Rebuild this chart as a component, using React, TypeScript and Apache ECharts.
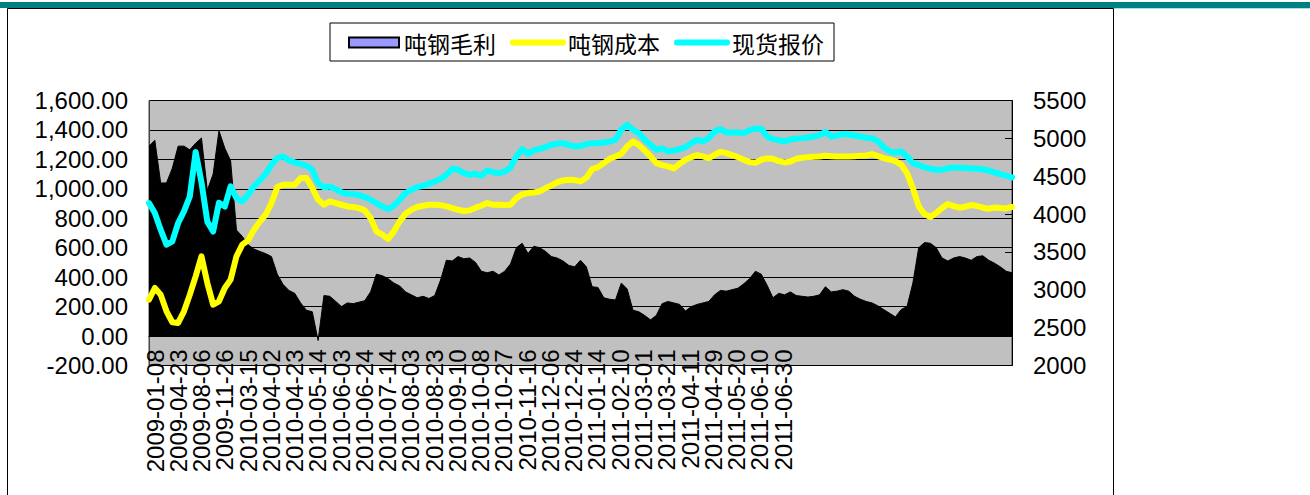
import React, { useEffect, useRef } from "react";
import * as echarts from "echarts";

// Tick labels shown under the plot (the source sheet only labels the first 28 slots)
const tickLabels = [
  "2009-01-08", "2009-04-23", "2009-08-06", "2009-11-26", "2010-03-15", "2010-04-02",
  "2010-04-23", "2010-05-14", "2010-06-03", "2010-06-24", "2010-07-14", "2010-08-03",
  "2010-08-23", "2010-09-10", "2010-10-08", "2010-10-27", "2010-11-16", "2010-12-06",
  "2010-12-24", "2011-01-14", "2011-02-10", "2011-03-01", "2011-03-21", "2011-04-11",
  "2011-04-29", "2011-05-20", "2011-06-10", "2011-06-30",
  "", "", "", "", "", "", "", "", "",
];

// 吨钢毛利 (left axis)
const profit = [
  1290, 1330, 1040, 1040, 1140, 1290, 1290, 1265, 1310, 1345,
  990, 1100, 1395, 1276, 1190, 720, 677, 620, 591, 575,
  560, 540, 420, 350, 310, 290, 225, 175, 165, -30,
  275, 270, 236, 200, 225, 220, 230, 240, 300, 420,
  410, 390, 360, 340, 300, 280, 260, 270, 255, 275,
  380, 515, 510, 540, 525, 530, 500, 440, 430, 440,
  415, 440, 490, 600, 630, 560, 610, 600, 575, 540,
  530, 510, 480, 470, 515, 470, 335, 330, 260, 250,
  245, 360, 320, 175, 165, 140, 110, 140, 220, 235,
  225, 215, 170, 200, 215, 225, 235, 280, 310, 305,
  315, 325, 355, 390, 440, 420, 345, 260, 290, 280,
  300, 275, 270, 265, 270, 280, 335, 300, 305, 315,
  305, 270, 250, 235, 225, 205, 180, 155, 130, 180,
  200, 360, 600, 635, 630, 600, 530, 510, 530, 540,
  530, 515, 540, 545, 515, 495, 470, 440, 430,
];

// 吨钢成本 (right axis)
const cost = [
  2870, 3024, 2936, 2716, 2571, 2562, 2716, 2936, 3178, 3442,
  3090, 2804, 2848, 3024, 3134, 3442, 3596, 3653, 3794, 3899,
  3991, 4145, 4356, 4387, 4387, 4387, 4475, 4475, 4343, 4189,
  4123, 4167, 4145, 4123, 4101, 4093, 4079, 4049, 3947, 3772,
  3728, 3671, 3772, 3904, 4005, 4057, 4093, 4110, 4123, 4123,
  4119, 4101, 4079, 4057, 4040, 4049, 4084, 4110, 4145, 4123,
  4123, 4119, 4123, 4211, 4260, 4277, 4286, 4299, 4343, 4378,
  4418, 4444, 4453, 4449, 4431, 4480, 4594, 4620, 4673, 4730,
  4761, 4796, 4893, 4959, 4915, 4840, 4761, 4673, 4647, 4629,
  4603, 4664, 4717, 4752, 4779, 4761, 4739, 4783, 4822, 4805,
  4779, 4752, 4717, 4686, 4677, 4717, 4735, 4730, 4699, 4682,
  4695, 4730, 4743, 4752, 4757, 4761, 4770, 4765, 4761, 4761,
  4761, 4765, 4770, 4774, 4792, 4765, 4739, 4721, 4699, 4651,
  4541, 4343, 4101, 4000, 3961, 4013, 4079, 4132, 4106, 4084,
  4097, 4119, 4106, 4084, 4071, 4088, 4079, 4075, 4093,
];

// 现货报价 (right axis)
const spot = [
  4145, 4014, 3794, 3596, 3640, 3882, 4036, 4233, 4820, 4420,
  3900, 3770, 4150, 4100, 4365, 4211, 4167, 4255, 4365, 4444,
  4532, 4651, 4739, 4761, 4708, 4682, 4664, 4638, 4585, 4409,
  4352, 4365, 4330, 4286, 4269, 4264, 4251, 4225, 4189, 4145,
  4101, 4066, 4110, 4189, 4277, 4321, 4356, 4374, 4400, 4431,
  4462, 4519, 4598, 4585, 4541, 4519, 4532, 4506, 4576, 4554,
  4541, 4563, 4616, 4761, 4858, 4796, 4840, 4862, 4884, 4915,
  4928, 4937, 4915, 4893, 4902, 4924, 4937, 4937, 4946, 4959,
  4981, 5113, 5179, 5113, 5069, 4981, 4915, 4849, 4867, 4827,
  4840, 4858, 4884, 4937, 4981, 4959, 5003, 5091, 5122, 5078,
  5078, 5078, 5069, 5108, 5130, 5126, 5025, 4990, 4976, 4959,
  4985, 4998, 5003, 5012, 5025, 5042, 5086, 5025, 5038, 5056,
  5051, 5038, 5025, 5007, 5003, 4959, 4884, 4827, 4814, 4827,
  4761, 4673, 4647, 4620, 4598, 4585, 4585, 4607, 4612, 4612,
  4607, 4603, 4598, 4589, 4576, 4550, 4528, 4506, 4484,
];

const seriesNames = ["吨钢毛利", "吨钢成本", "现货报价"];

export default function App() {
  const ref = useRef<HTMLDivElement>(null);

  useEffect(() => {
    if (!ref.current) return;
    const chart = echarts.init(ref.current, undefined, { renderer: "svg" });
    const points = profit.map((_, i) => String(i));
    const numFont = "'Liberation Sans', Arial, sans-serif";

    chart.setOption({
      animation: false,
      backgroundColor: "#ffffff",
      graphic: {
        z: -10,
        elements: [
          { type: "rect", z: -10, shape: { x: 0, y: 2, width: 1310, height: 6 }, style: { fill: "#008080" } },
          { type: "rect", z: -10, shape: { x: 1113, y: 8, width: 197, height: 1 }, style: { fill: "#a8e4e4" } },
          {
            type: "rect",
            z: -9,
            shape: { x: 7.5, y: 8.5, width: 1106, height: 500 },
            style: { fill: "#ffffff", stroke: "#000000", lineWidth: 1 },
          },
        ],
      },
      legend: {
        left: 330,
        top: 23,
        data: [
          {
            name: seriesNames[0],
            icon: "rect",
            itemStyle: { color: "#9999ff", borderColor: "#000000", borderWidth: 2 },
          },
          {
            name: seriesNames[1],
            itemStyle: { opacity: 0 },
            lineStyle: { color: "#ffff00", width: 6, cap: "round" },
          },
          {
            name: seriesNames[2],
            itemStyle: { opacity: 0 },
            lineStyle: { color: "#00ffff", width: 6, cap: "round" },
          },
        ],
        itemWidth: 50,
        itemHeight: 10,
        itemGap: 14,
        padding: [8, 10, 7, 18],
        borderColor: "#000000",
        borderWidth: 1,
        backgroundColor: "#ffffff",
        selectedMode: false,
        textStyle: { fontSize: 23, color: "#000000", fontFamily: "'Noto Sans CJK SC', sans-serif" },
      },
      grid: [
        {
          left: 149,
          top: 100.5,
          width: 863,
          height: 265,
          show: true,
          backgroundColor: "#c0c0c0",
          borderColor: "#444444",
          borderWidth: 1,
        },
        { left: 155, top: 100.5, width: 837.4, height: 236 },
      ],
      xAxis: [
        {
          type: "category",
          gridIndex: 0,
          data: points,
          boundaryGap: false,
          axisLine: { show: true, onZero: true, lineStyle: { color: "#000000", width: 1 } },
          axisTick: { show: false },
          axisLabel: { show: false },
          splitLine: { show: false },
        },
        {
          type: "category",
          gridIndex: 1,
          data: tickLabels,
          boundaryGap: false,
          axisLine: { show: false },
          axisTick: { show: false },
          splitLine: { show: false },
          axisLabel: {
            interval: 0,
            rotate: 90,
            margin: 13,
            fontSize: 24,
            color: "#000000",
            fontFamily: numFont,
          },
        },
      ],
      yAxis: [
        {
          type: "value",
          gridIndex: 0,
          position: "left",
          min: -200,
          max: 1600,
          interval: 200,
          axisLine: { show: true, lineStyle: { color: "#444444" } },
          axisTick: { show: false },
          splitLine: { show: true, lineStyle: { color: "#000000", width: 1.2 } },
          axisLabel: {
            margin: 21,
            fontSize: 24,
            color: "#000000",
            fontFamily: numFont,
            formatter: (v: number) =>
              v.toLocaleString("en-US", { minimumFractionDigits: 2, maximumFractionDigits: 2 }),
          },
        },
        {
          type: "value",
          gridIndex: 0,
          position: "right",
          min: 2000,
          max: 5500,
          interval: 500,
          axisLine: { show: true, lineStyle: { color: "#000000" } },
          axisTick: { show: true, inside: true, length: 7, lineStyle: { color: "#000000" } },
          splitLine: { show: false },
          axisLabel: {
            margin: 21,
            fontSize: 24,
            color: "#000000",
            fontFamily: numFont,
            formatter: (v: number) => String(v),
          },
        },
        { type: "value", gridIndex: 1, show: false },
      ],
      series: [
        {
          name: seriesNames[0],
          type: "line",
          xAxisIndex: 0,
          yAxisIndex: 0,
          data: profit,
          symbol: "none",
          lineStyle: { color: "#000000", width: 1 },
          itemStyle: { color: "#000000" },
          areaStyle: { color: "#000000", opacity: 1 },
        },
        {
          name: seriesNames[1],
          type: "line",
          xAxisIndex: 0,
          yAxisIndex: 1,
          data: cost,
          symbol: "none",
          lineStyle: { color: "#ffff00", width: 6, cap: "round", join: "round" },
          itemStyle: { color: "#ffff00" },
        },
        {
          name: seriesNames[2],
          type: "line",
          xAxisIndex: 0,
          yAxisIndex: 1,
          data: spot,
          symbol: "none",
          lineStyle: { color: "#00ffff", width: 6, cap: "round", join: "round" },
          itemStyle: { color: "#00ffff" },
        },
      ],
    });

    return () => chart.dispose();
  }, []);

  return (
    <div
      ref={ref}
      style={{ position: "absolute", left: 0, top: 0, width: 1310, height: 495, background: "#ffffff" }}
    />
  );
}
